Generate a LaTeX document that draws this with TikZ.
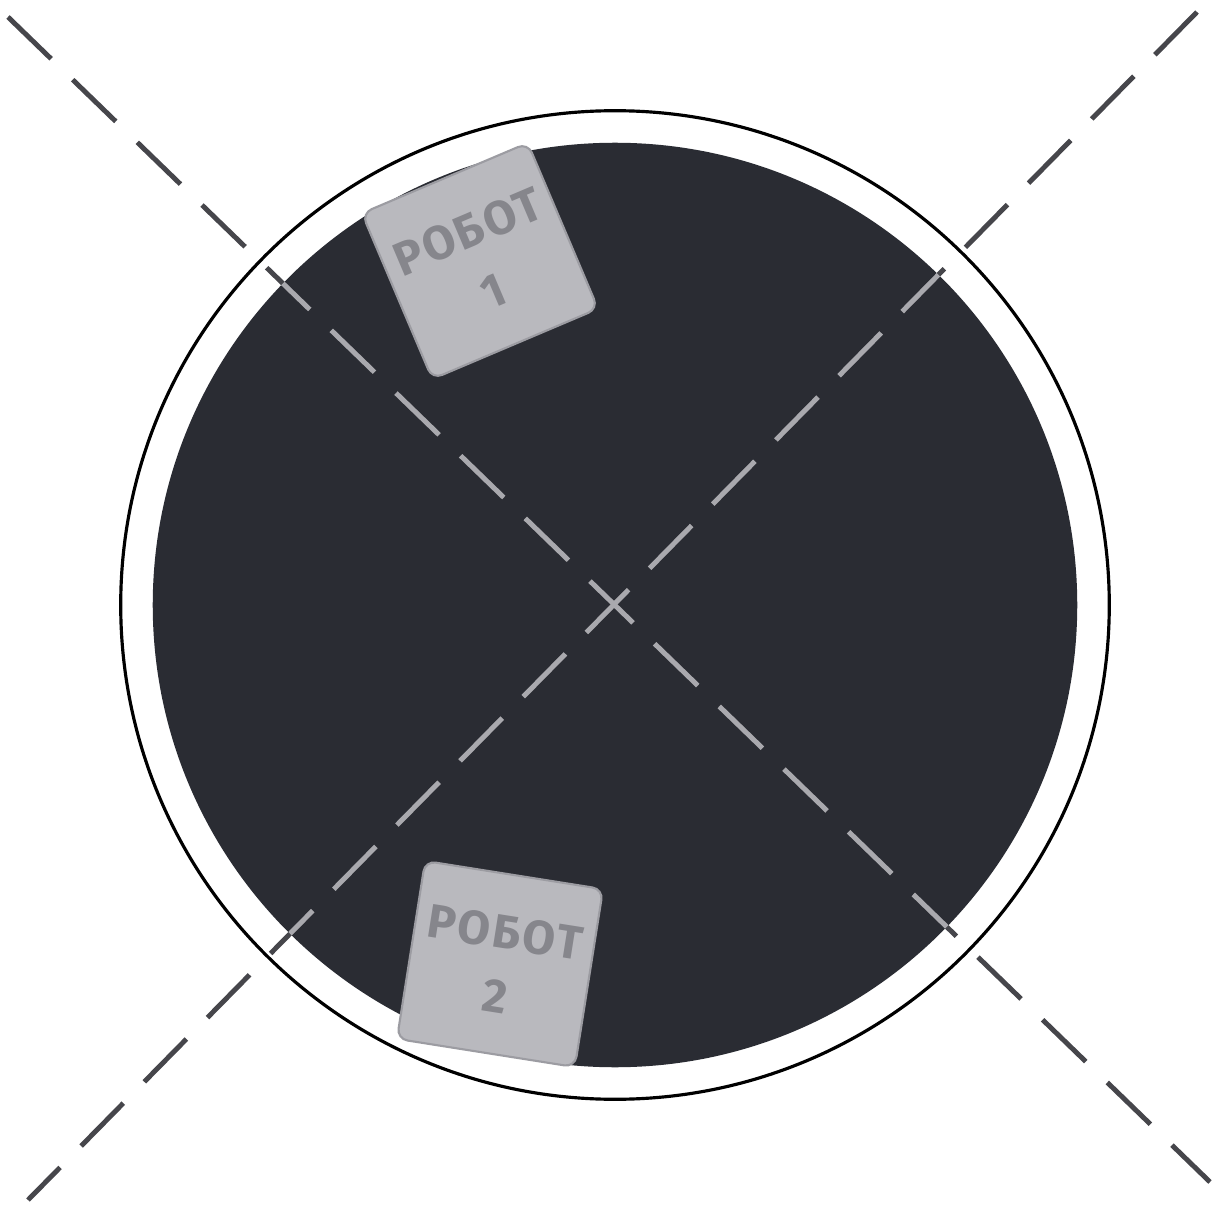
\documentclass[tikz,border=0pt]{standalone}
\usepackage{fontspec}
\newfontfamily\robotfont{Fira Sans}[LetterSpace=5]
\usepackage{xcolor}
\usepackage{tikz}
\usetikzlibrary{calc, positioning}

\definecolor{floorgrey}{HTML}{2A2C33}
\definecolor{robotgrey}{HTML}{B9B9BE}
\definecolor{robotedge}{HTML}{9C9CA2}
\definecolor{robottext}{HTML}{86868C}
\definecolor{dashdark}{HTML}{46464B}
\definecolor{dashlight}{HTML}{A9A9AE}

\tikzset{
    robotbox/.style={draw=robotedge, line width=0.6pt, fill=robotgrey,
        rounded corners=3pt, minimum size=1.8cm, inner sep=0pt,
        align=center, text=robottext,
        font=\robotfont\bfseries\fontsize{13.5}{18.5}\selectfont},
    cutline/.style={line width=1.4pt, dash pattern=on 0.6cm off 0.3cm}
}

\begin{document}
\begin{tikzpicture}[x=0.01cm, y=-0.01cm]
    \useasboundingbox (0,0) rectangle (1214,1209);

    % =================================================================
    % 1. TOA DO CAC DIEM CHINH
    % =================================================================
    \coordinate (O) at (615,605);

    % Hai duong cheo net dut
    \coordinate (DiagAStart) at (8,17);
    \coordinate (DiagAEnd) at (1210,1182);
    \coordinate (DiagBStart) at (1197,12);
    \coordinate (DiagBEnd) at (28,1200);

    % =================================================================
    % 2. SAN THI DAU: VONG TRON NGOAI VA NEN TOI
    % =================================================================
    \draw[line width=0.9pt, fill=white] (O) circle[radius=4.94cm];
    \fill[floorgrey] (O) circle[radius=4.62cm];

    % =================================================================
    % 3. DUONG CHEO: MAU TOI BEN NGOAI, MAU SANG TREN NEN
    % =================================================================
    \draw[cutline, dashdark] (DiagAStart) -- (DiagAEnd);
    \draw[cutline, dashdark] (DiagBStart) -- (DiagBEnd);

    \begin{scope}
        \clip (O) circle[radius=4.62cm];
        \draw[cutline, dashlight] (DiagAStart) -- (DiagAEnd);
        \draw[cutline, dashlight] (DiagBStart) -- (DiagBEnd);
    \end{scope}

    % =================================================================
    % 4. HAI ROBOT
    % =================================================================
    \node[robotbox, rotate=23] (robot1) at (480,261) {РОБОТ\\1};
    \node[robotbox, rotate=-9] (robot2) at (500,964) {РОБОТ\\2};

\end{tikzpicture}
\end{document}
